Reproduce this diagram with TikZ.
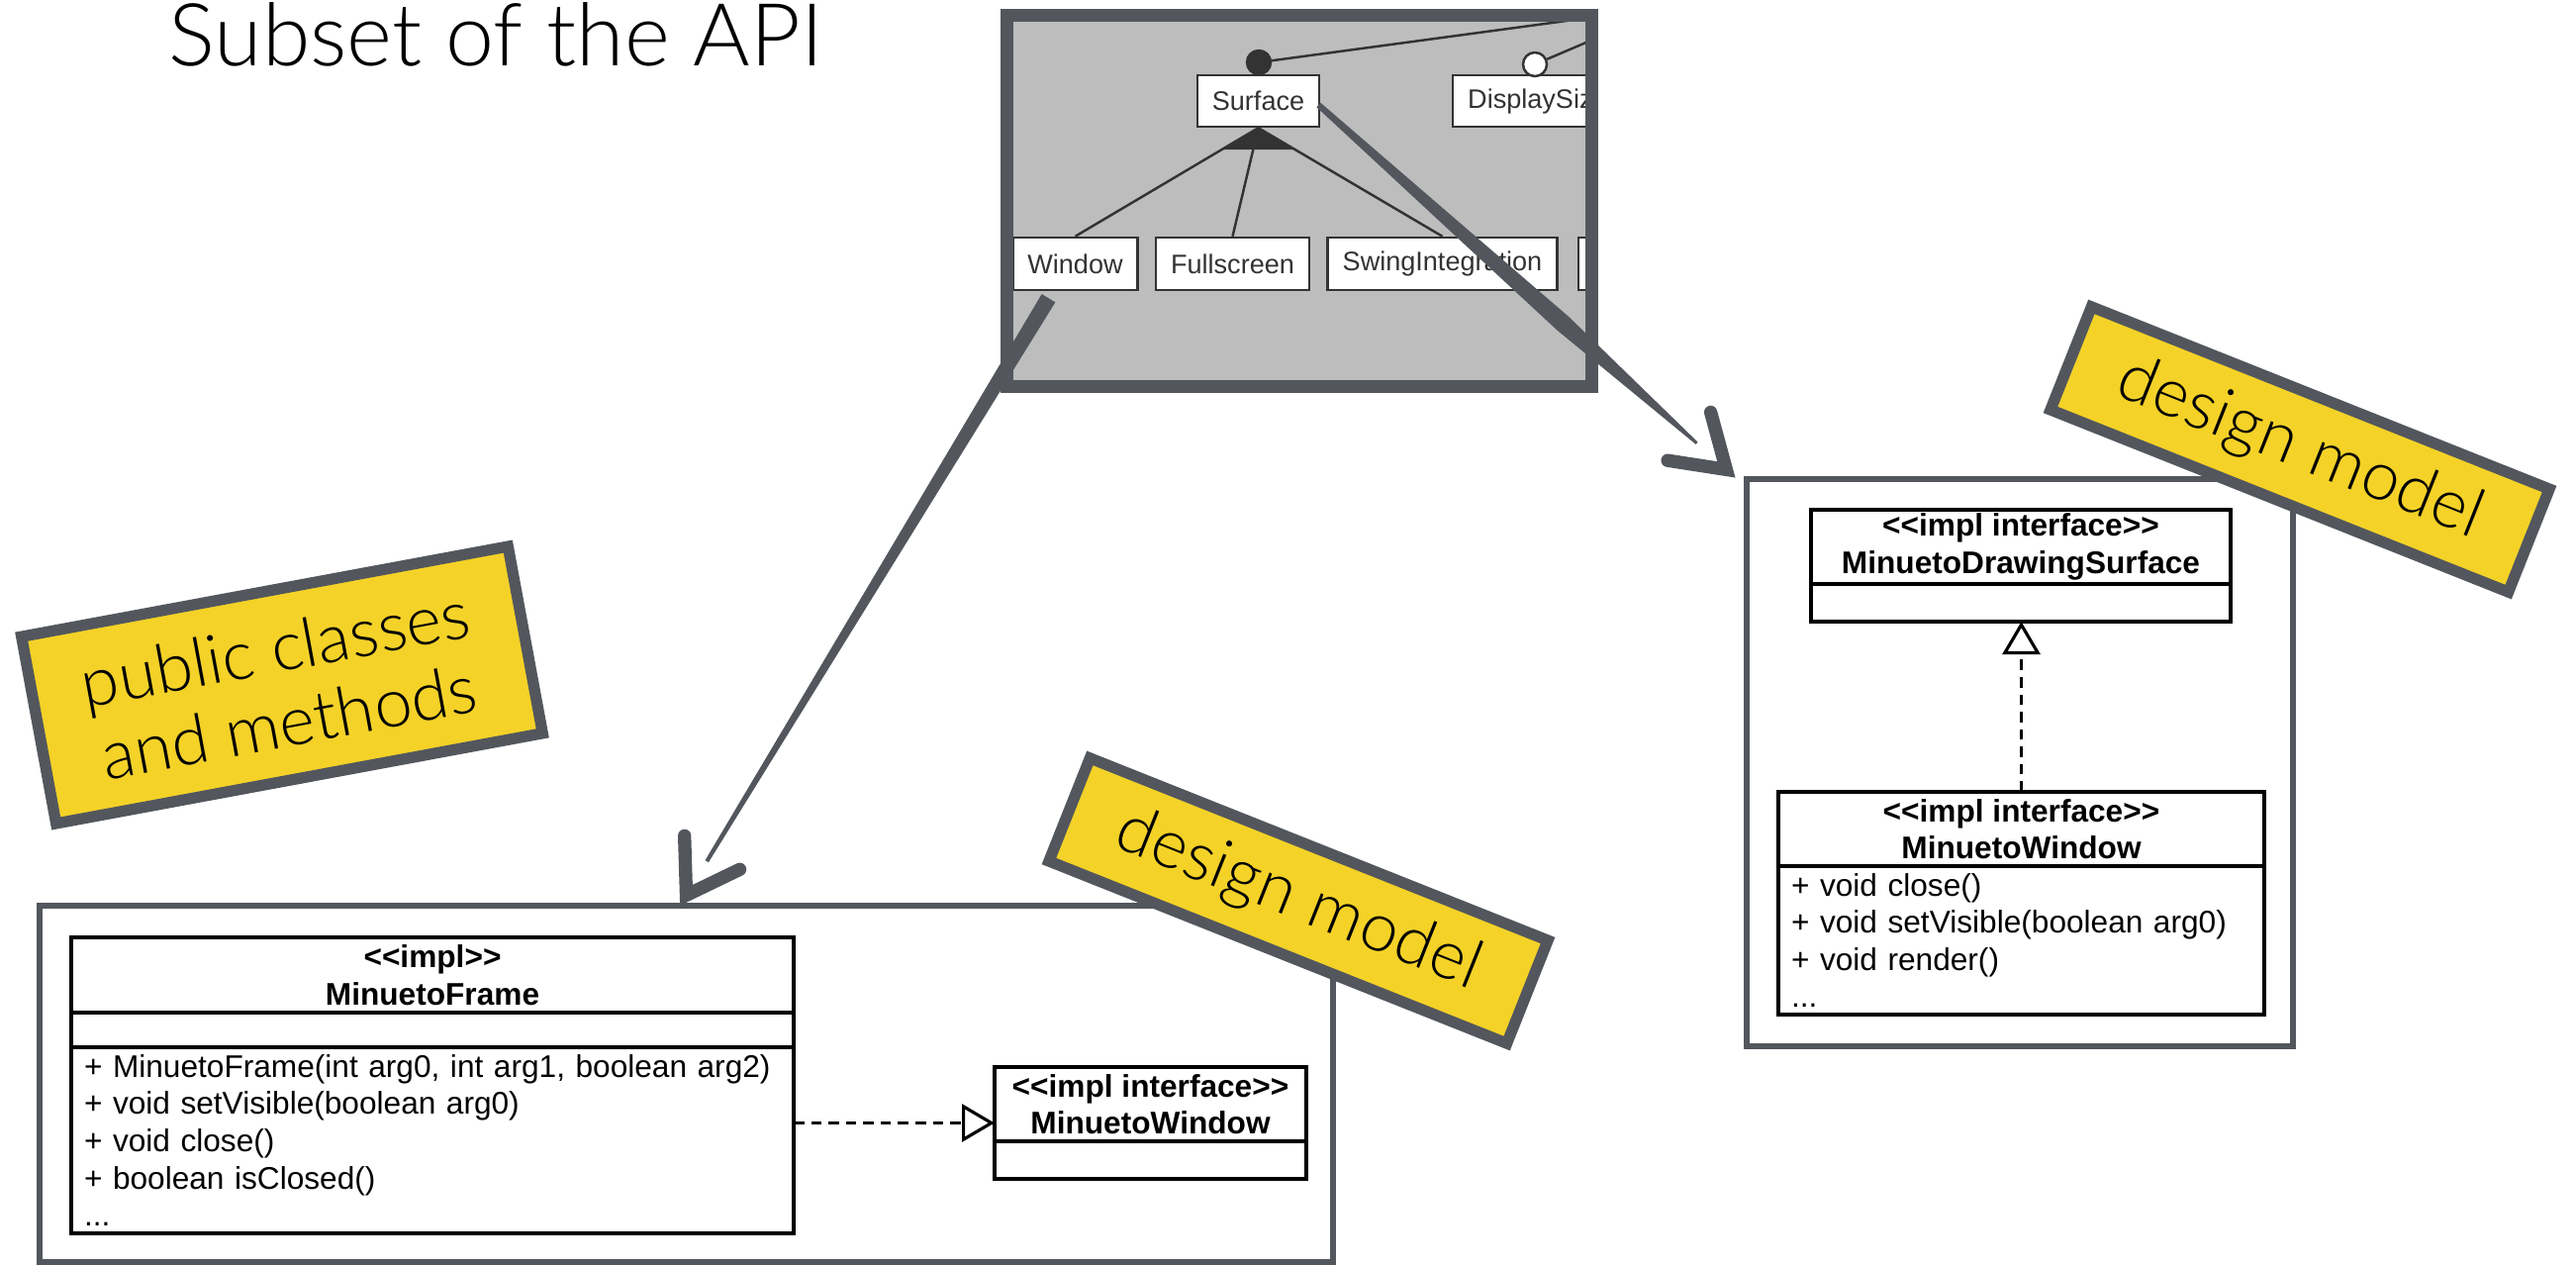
\documentclass[tikz,border=0pt]{standalone}
\usepackage{fontspec}
\setmainfont{Liberation Sans}
\newfontfamily\lightfont{Lato Light}
\usetikzlibrary{positioning, calc, arrows.meta}

\definecolor{slate}{HTML}{53575D}
\definecolor{tagyellow}{HTML}{F4D228}
\definecolor{shotgrey}{HTML}{BDBDBD}
\definecolor{featink}{HTML}{333333}

% stereotype brackets, kept apart so they stay two characters
\newcommand{\stereo}[1]{<\kern0pt<#1>\kern0pt>}

\begin{document}
\begin{tikzpicture}[
		% frames and sticky tags
		frame/.style={rectangle, draw=slate, line width=1.5pt},
		tag/.style={
			rectangle,
			draw=slate,
			line width=3.2pt,
			fill=tagyellow,
			align=center,
			inner sep=0pt,
			font=\lightfont\fontsize{19.5}{21.5}\selectfont
		},
		shot/.style={rectangle, fill=shotgrey},
		% feature model inside the screenshot
		feat/.style={
			rectangle,
			draw=featink,
			line width=0.7pt,
			fill=white,
			text=featink,
			inner xsep=0.15cm,
			minimum height=0.52cm,
			font=\fontsize{7.7}{9}\selectfont
		},
		featdot/.style={circle, draw=featink, line width=0.7pt, inner sep=0pt, minimum size=0.24cm},
		featline/.style={draw=featink, line width=0.7pt},
		% uml classes
		umlhead/.style={
			rectangle,
			draw,
			line width=0.9pt,
			outer sep=0pt,
			fill=white,
			align=center,
			inner sep=0pt,
			font=\bfseries\fontsize{9}{10.7}\selectfont
		},
		umlpart/.style={
			rectangle,
			draw,
			line width=0.9pt,
			outer sep=0pt,
			fill=white,
			align=left,
			inner xsep=0.13cm,
			inner ysep=0pt,
			font=\fontsize{9}{10.7}\selectfont
		},
		realize/.style={dash pattern=on 3pt off 2pt, line width=0.9pt, -{Triangle[open, length=3.3mm, width=3.8mm]}},
		% hand drawn arrows
		brush/.style={fill=slate},
		brushhead/.style={draw=slate, line width=3.8pt, line cap=round, line join=miter}
		]
		
		\path[use as bounding box, fill=white] (0,0) rectangle (26.03,-12.78);
		
		% ----- Title -----
		\node[anchor=base west, inner sep=0pt, font=\lightfont\fontsize{25}{30}\selectfont] (title) at (1.70,-0.66) {Subset of the API};
		
		% ----- Design model frames -----
		\node[frame, minimum width=13.07cm, minimum height=3.60cm] (designLeft) at (6.935,-10.95) {};
		\node[frame, minimum width=5.52cm, minimum height=5.73cm] (designRight) at (20.41,-7.705) {};
		
		% ----- Left design model -----
		\node[umlhead, minimum width=7.30cm, minimum height=0.76cm] (frameHead) at (4.37,-9.85) {\stereo{impl}\\MinuetoFrame};
		\node[umlpart, minimum width=7.30cm, minimum height=0.35cm, below=0pt of frameHead] (frameAttr) {};
		\node[umlpart, text width=7.04cm, minimum height=1.88cm, below=0pt of frameAttr] (frameOps) {
			+ MinuetoFrame(int arg0, int arg1, boolean arg2)\\
			+ void setVisible(boolean arg0)\\
			+ void close()\\
			+ boolean isClosed()\\
			...
		};
		
		\node[umlhead, minimum width=3.15cm, minimum height=0.75cm] (windowHead) at (11.625,-11.155) {\stereo{impl interface}\\MinuetoWindow};
		\node[umlpart, minimum width=3.15cm, minimum height=0.38cm, below=0pt of windowHead] (windowAttr) {};
		\coordinate (windowMid) at ($(windowHead.north west)!0.5!(windowAttr.south west)$);
		
		\draw[realize] (frameOps.east |- windowMid) -- (windowMid);
		
		% ----- Right design model -----
		\node[umlhead, minimum width=4.24cm, minimum height=0.75cm] (surfHead) at (20.42,-5.525) {\stereo{impl interface}\\MinuetoDrawingSurface};
		\node[umlpart, minimum width=4.24cm, minimum height=0.38cm, below=0pt of surfHead] (surfAttr) {};
		
		\node[umlhead, minimum width=4.91cm, minimum height=0.75cm] (mwHead) at (20.425,-8.375) {\stereo{impl interface}\\MinuetoWindow};
		\node[umlpart, text width=4.65cm, minimum height=1.50cm, below=0pt of mwHead] (mwOps) {
			+ void close()\\
			+ void setVisible(boolean arg0)\\
			+ void render()\\
			...
		};
		
		\draw[realize] (mwHead.north) -- (mwHead.north |- surfAttr.south);
		
		% ----- Tags -----
		\node[tag, rotate=10.5, minimum width=5.0cm, minimum height=1.92cm] (publicTag) at (2.85,-6.92) {public classes\\and methods};
		\node[tag, rotate=-21.7, minimum width=4.98cm, minimum height=1.12cm] (designTagA) at (13.12,-9.10) {design model};
		\node[tag, rotate=-21.7, minimum width=4.98cm, minimum height=1.12cm] (designTagB) at (23.24,-4.54) {design model};
		
		% ----- Screenshot of the feature model -----
		\node[shot, minimum width=5.90cm, minimum height=3.74cm] (shot) at (13.13,-2.03) {};
		\begin{scope}
			\clip (shot.south west) rectangle (shot.north east);
			\node[feat, minimum width=1.19cm] (surface) at (12.715,-1.02) {Surface};
			\node[feat, anchor=west] (displaySize) at (14.67,-1.02) {DisplaySize};
			\node[feat, minimum width=1.23cm, minimum height=0.53cm] (window) at (10.865,-2.665) {Window};
			\node[feat, minimum width=1.51cm, minimum height=0.53cm] (fullscreen) at (12.455,-2.665) {Fullscreen};
			\node[feat, minimum width=2.29cm, minimum height=0.53cm] (swing) at (14.575,-2.665) {SwingIntegration};
			\node[feat, minimum width=1.0cm, minimum height=0.53cm, anchor=west] (moreFeat) at (15.94,-2.665) {};
			
			\node[featdot, fill=featink] (surfaceDot) at (12.72,-0.63) {};
			\node[featdot, fill=white] (displayDot) at (15.51,-0.65) {};
			\coordinate (parentFeat) at (16.87,-0.07);
			
			\draw[featline] (surfaceDot) -- (parentFeat);
			\draw[featline] (displayDot) -- (parentFeat);
			\draw[featline] (surface.south) -- (window.north);
			\draw[featline] (surface.south) -- (fullscreen.north);
			\draw[featline] (surface.south) -- (swing.north);
			\fill[featink] (surface.south) -- ($(surface.south)!0.2!(window.north)$) -- ($(surface.south)!0.2!(swing.north)$) -- cycle;
		\end{scope}
		\draw[slate, line width=3.7pt] (shot.south west) rectangle (shot.north east);
		
		% ----- Brush arrows -----
		\coordinate (winTail) at ($(window.south)+(-0.27,-0.07)$);
		\coordinate (frameTip) at ($(designLeft.north)+(0,0.08)$);
		\coordinate (winShaftEnd) at ($(frameTip)!0.4cm!(winTail)$);
		\fill[brush] ($(winTail)!0.8mm!90:(frameTip)$) -- ($(winShaftEnd)!0.2mm!90:(frameTip)$)
			-- ($(winShaftEnd)!0.2mm!-90:(frameTip)$) -- ($(winTail)!0.8mm!-90:(frameTip)$) -- cycle;
		\draw[brushhead] ($(frameTip)!6mm!33:(winTail)$) -- (frameTip) -- ($(frameTip)!6mm!-33:(winTail)$);
		
		\coordinate (surfTail) at ($(surface.east)+(-0.02,-0.04)$);
		\coordinate (surfTip) at ($(designRight.north west)+(-0.18,0.07)$);
		\coordinate (surfShaftEnd) at ($(surfTip)!0.4cm!(surfTail)$);
		\coordinate (surfShaftMid) at ($(surfTail)!0.6!(surfTip)$);
		\fill[brush] ($(surfTail)!0.3mm!90:(surfTip)$) -- ($(surfShaftMid)!0.9mm!90:(surfTip)$)
			-- ($(surfShaftEnd)!0.15mm!90:(surfTip)$) -- ($(surfShaftEnd)!0.15mm!-90:(surfTip)$)
			-- ($(surfShaftMid)!0.9mm!-90:(surfTip)$) -- ($(surfTail)!0.3mm!-90:(surfTip)$) -- cycle;
		\draw[brushhead] ($(surfTip)!6mm!33:(surfTail)$) -- (surfTip) -- ($(surfTip)!6mm!-33:(surfTail)$);
		
	\end{tikzpicture}
\end{document}
